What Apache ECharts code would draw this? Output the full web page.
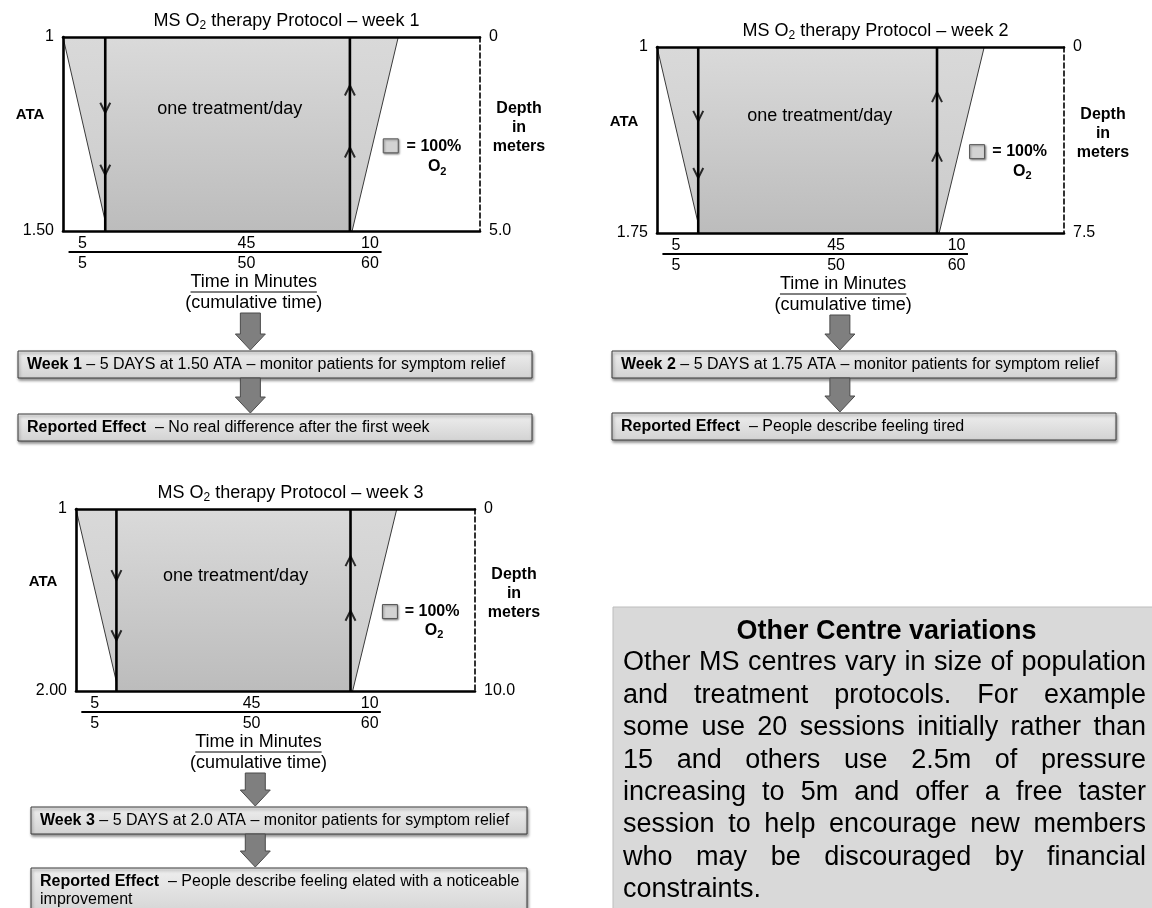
<!DOCTYPE html>
<html><head><meta charset="utf-8">
<script src="https://cdn.jsdelivr.net/npm/echarts@6/dist/echarts.min.js"></script>
<style>html,body{margin:0;padding:0;background:#fff}#c{width:1152px;height:908px}</style>
</head><body><div id="c"></div>
<script>
// ---------------- data ----------------
const weekNumbers = ['1', '2', '3'];
const bottomATA = [1.5, 1.75, 2.0];
const bottomDepth = [5, 7.5, 10];
const ataTickLabels = [['1', '1.50'], ['1', '1.75'], ['1', '2.00']];
const depthTickLabels = [['0', '5.0'], ['0', '7.5'], ['0', '10.0']];
const segmentMinutes = ['5', '45', '10'];
const cumulativeMinutes = ['5', '50', '60'];
// schematic profile of the 100% O2 period (time units of the drawing)
const o2ProfileTime = [0, 8, 52, 60.3];
const descentTime = 7.6;
const ascentTime = 51.6;
// arrow heads on the descent / ascent lines (ATA)
const descentArrowATA = [[1.19, 1.35], [1.29, 1.52], [1.38, 1.71]];
const ascentArrowATA = [[1.13, 1.29], [1.19, 1.43], [1.27, 1.57]];
const weekSummary = [
  '5 DAYS at 1.50 ATA \u2013 monitor patients for symptom relief',
  '5 DAYS at 1.75 ATA \u2013 monitor patients for symptom relief',
  '5 DAYS at 2.0 ATA \u2013 monitor patients for symptom relief'
];
const reportedEffect = [
  'No real difference after the first week',
  'People describe feeling tired',
  'People describe feeling elated with a noticeable\nimprovement'
];
const paraTitle = 'Other Centre variations';
const paraLines = [
  'Other MS centres vary in size of population',
  'and treatment protocols. For example',
  'some use 20 sessions initially rather than',
  '15 and others use 2.5m of pressure',
  'increasing to 5m and offer a free taster',
  'session to help encourage new members',
  'who may be discouraged by financial',
  'constraints.'
];

// ---------------- layout ----------------
const FONT = '"Liberation Sans", Arial, Helvetica, sans-serif';
const XMAX = 75;
const panels = [
  {left: 63, top: 37, right: 480, bottom: 231, box1: 351, box2: 414, box2h: 27},
  {left: 657, top: 47, right: 1064, bottom: 233, box1: 351, box2: 413, box2h: 27},
  {left: 76, top: 509, right: 475, bottom: 691, box1: 807, box2: 868, box2h: 50}
];
const segLabelT = [3.5, 33, 55.2];

const chart = echarts.init(document.getElementById('c'));
const grids = [], xAxes = [], yAxes = [], series = [];

panels.forEach((p, i) => {
  const b = bottomATA[i], d = bottomDepth[i];
  grids.push({left: p.left, top: p.top, width: p.right - p.left, height: p.bottom - p.top});
  const solid = {show: true, onZero: false, lineStyle: {color: '#000', width: 2.6}};
  const base = {type: 'value', gridIndex: i, axisTick: {show: false}, splitLine: {show: false}, z: 10};
  xAxes.push(Object.assign({}, base, {min: 0, max: XMAX, position: 'bottom', axisLine: solid, axisLabel: {show: false}}));
  xAxes.push(Object.assign({}, base, {min: 0, max: XMAX, position: 'top', axisLine: solid, axisLabel: {show: false}}));
  yAxes.push(Object.assign({}, base, {
    min: 1, max: b, inverse: true, position: 'left', axisLine: solid,
    axisLabel: {show: true, customValues: [1, b], margin: 9, fontSize: 16, color: '#000', fontFamily: FONT,
      formatter: v => (Math.abs(v - 1) < 1e-9 ? ataTickLabels[i][0] : ataTickLabels[i][1])}
  }));
  yAxes.push(Object.assign({}, base, {
    min: 0, max: d, inverse: true, position: 'right',
    axisLine: {show: true, onZero: false, lineStyle: {color: '#000', width: 1.6, type: [5, 3]}},
    axisLabel: {show: true, customValues: [0, d], margin: 9, fontSize: 16, color: '#000', fontFamily: FONT,
      formatter: v => (Math.abs(v) < 1e-9 ? depthTickLabels[i][0] : depthTickLabels[i][1])}
  }));
  const xi = 2 * i, yi = 2 * i;
  const prof = o2ProfileTime.map((t, j) => [t, (j === 0 || j === 3) ? 1 : b]);
  series.push({
    type: 'line', xAxisIndex: xi, yAxisIndex: yi, data: prof, symbol: 'none', z: 1, silent: true,
    lineStyle: {color: '#3a3a3a', width: 1},
    areaStyle: {origin: 'start', opacity: 1, color: new echarts.graphic.LinearGradient(0, 0, 0, 1,
      [{offset: 0, color: '#d9d9d9'}, {offset: 1, color: '#cbcbcb'}])}
  });
  series.push({
    type: 'line', xAxisIndex: xi, yAxisIndex: yi, data: [[descentTime, b], [ascentTime, b]], symbol: 'none', z: 2, silent: true,
    lineStyle: {width: 0},
    areaStyle: {origin: 'start', opacity: 1, color: new echarts.graphic.LinearGradient(0, 0, 0, 1,
      [{offset: 0, color: '#dadada'}, {offset: 1, color: '#bcbcbc'}])}
  });
  [descentTime, ascentTime].forEach(t => series.push({
    type: 'line', xAxisIndex: xi, yAxisIndex: yi, data: [[t, 1], [t, b]], symbol: 'none', z: 3, silent: true,
    lineStyle: {color: '#000', width: 2.6}
  }));
  series.push({
    type: 'scatter', xAxisIndex: xi, yAxisIndex: yi, z: 4, silent: true,
    data: descentArrowATA[i].map(v => [descentTime, v]),
    symbol: 'path://M0,0 L6,9 L12,0', symbolSize: [10, 10], symbolOffset: [0, -3],
    itemStyle: {color: 'rgba(0,0,0,0)', borderColor: '#000', borderWidth: 2}
  });
  series.push({
    type: 'scatter', xAxisIndex: xi, yAxisIndex: yi, z: 4, silent: true,
    data: ascentArrowATA[i].map(v => [ascentTime, v]),
    symbol: 'path://M0,9 L6,0 L12,9', symbolSize: [10, 10], symbolOffset: [0, 3],
    itemStyle: {color: 'rgba(0,0,0,0)', borderColor: '#000', borderWidth: 2}
  });
});

chart.setOption({animation: false, grid: grids, xAxis: xAxes, yAxis: yAxes, series: series});

// ---------------- annotations ----------------
const cv = document.createElement('canvas').getContext('2d');
function measure(text, size, weight) { cv.font = (weight || 'normal') + ' ' + size + 'px ' + FONT; return cv.measureText(text).width; }
const g = [];
function txt(x, y, text, o) {
  o = o || {};
  g.push({type: 'text', x: x, y: y, z: 20, silent: true, style: Object.assign({
    text: text, fontSize: 16, fontFamily: FONT, fill: '#000', align: 'left', verticalAlign: 'middle'}, o)});
}
function arrow(cx, y0, y1) {
  const hb = 10, hh = 15, hl = 16;
  g.push({type: 'polygon', z: 15, silent: true, shape: {points: [
    [cx - hb, y0], [cx + hb, y0], [cx + hb, y1 - hl], [cx + hh, y1 - hl], [cx, y1], [cx - hh, y1 - hl], [cx - hb, y1 - hl]]},
    style: {fill: '#7f7f7f', stroke: '#4a4a4a', lineWidth: 1}});
}
function box(x, y, w, h) {
  g.push({type: 'rect', z: 14, silent: true, shape: {x: x, y: y, width: w, height: h},
    style: {fill: new echarts.graphic.LinearGradient(0, 0, 0, 1, [{offset: 0, color: '#efefef'}, {offset: 1, color: '#d2d2d2'}]),
      stroke: '#3c3c3c', lineWidth: 1, shadowBlur: 3, shadowOffsetX: 1, shadowOffsetY: 2, shadowColor: 'rgba(0,0,0,0.45)'}});
}

panels.forEach((p, i) => {
  const xi = 2 * i;
  const px = t => chart.convertToPixel({xAxisIndex: xi, yAxisIndex: xi}, [t, 1])[0];
  const pyF = f => p.top + f * (p.bottom - p.top);
  const cxTitle = (p.left + p.right) / 2 + 15;
  txt(cxTitle, p.top - 16, '{a|MS O}{s|2}{a| therapy Protocol \u2013 week ' + weekNumbers[i] + '}', {
    align: 'center', rich: {a: {fontSize: 18, fontFamily: FONT, lineHeight: 22}, s: {fontSize: 12, fontFamily: FONT, lineHeight: 12, verticalAlign: 'bottom'}}});
  txt(px(30), pyF(0.37), 'one treatment/day', {fontSize: 18, align: 'center'});
  // legend
  g.push({type: 'rect', z: 16, silent: true, shape: {x: px(57.6), y: pyF(0.525), width: 15, height: 14},
    style: {fill: '#d3d3d3', stroke: '#555', lineWidth: 1, shadowBlur: 2, shadowOffsetX: 1, shadowOffsetY: 1, shadowColor: 'rgba(0,0,0,0.4)'}});
  txt(px(61.8), pyF(0.565), '= 100%', {fontSize: 16, fontWeight: 'bold'});
  txt(px(67.3), pyF(0.67), '{a|O}{s|2}', {align: 'center',
    rich: {a: {fontSize: 16, fontWeight: 'bold', fontFamily: FONT, lineHeight: 20}, s: {fontSize: 11, fontWeight: 'bold', fontFamily: FONT, lineHeight: 11, verticalAlign: 'bottom'}}});
  txt(p.left - 33, pyF(0.40), 'ATA', {fontSize: 15, fontWeight: 'bold', align: 'center'});
  txt(p.right + 39, pyF(0.465), 'Depth\nin\nmeters', {fontSize: 16, fontWeight: 'bold', align: 'center', lineHeight: 19});
  // time rows
  segmentMinutes.forEach((s, k) => txt(px(segLabelT[k]), p.bottom + 13, s, {align: 'center'}));
  cumulativeMinutes.forEach((s, k) => txt(px(segLabelT[k]), p.bottom + 33, s, {align: 'center'}));
  g.push({type: 'line', z: 16, silent: true, shape: {x1: px(1), y1: p.bottom + 21, x2: px(57.3), y2: p.bottom + 21},
    style: {stroke: '#000', lineWidth: 2.2}});
  const tcx = px(34.3);
  txt(tcx, p.bottom + 51, 'Time in Minutes', {fontSize: 18, align: 'center'});
  const tw = measure('Time in Minutes', 18);
  g.push({type: 'line', z: 16, silent: true, shape: {x1: tcx - tw / 2, y1: p.bottom + 61, x2: tcx + tw / 2, y2: p.bottom + 61},
    style: {stroke: '#000', lineWidth: 1}});
  txt(tcx, p.bottom + 72, '(cumulative time)', {fontSize: 18, align: 'center'});
  // flow
  const acx = px(33.7);
  const bx = p.left - 45, bw = (p.right + 52) - bx;
  arrow(acx, p.bottom + 82, p.box1 - 1);
  box(bx, p.box1, bw, 27);
  txt(bx + 9, p.box1 + 13.5, '{b|Week ' + weekNumbers[i] + '} \u2013 ' + weekSummary[i], {
    rich: {b: {fontWeight: 'bold', fontSize: 16, fontFamily: FONT}}});
  arrow(acx, p.box1 + 27, p.box2 - 1);
  box(bx, p.box2, bw, p.box2h);
  txt(bx + 9, p.box2 + 5, '{b|Reported Effect}  \u2013 ' + reportedEffect[i], {
    verticalAlign: 'top', lineHeight: 18,
    rich: {b: {fontWeight: 'bold', fontSize: 16, fontFamily: FONT, lineHeight: 18}}});
});

// text panel
const TB = {x: 613, y: 607, w: 545, h: 305, textL: 623, textR: 1146, titleY: 632, firstY: 663, lh: 32.4, size: 27};
g.push({type: 'rect', z: 5, silent: true, shape: {x: TB.x, y: TB.y, width: TB.w, height: TB.h},
  style: {fill: '#d9d9d9', stroke: '#bdbdbd', lineWidth: 1}});
txt((TB.textL + TB.textR) / 2 + 2, TB.titleY, paraTitle, {fontSize: TB.size, fontWeight: 'bold', align: 'center'});
paraLines.forEach((line, li) => {
  const words = line.split(' ');
  const ws = words.map(w => measure(w, TB.size));
  const total = ws.reduce((a, b) => a + b, 0);
  const last = li === paraLines.length - 1;
  const gap = (last || words.length < 2) ? measure(' ', TB.size) : (TB.textR - TB.textL - total) / (words.length - 1);
  let x = TB.textL;
  const y = TB.firstY + li * TB.lh;
  words.forEach((w, k) => { txt(x, y, w, {fontSize: TB.size}); x += ws[k] + gap; });
});

chart.setOption({graphic: {elements: g}});
</script></body></html>
